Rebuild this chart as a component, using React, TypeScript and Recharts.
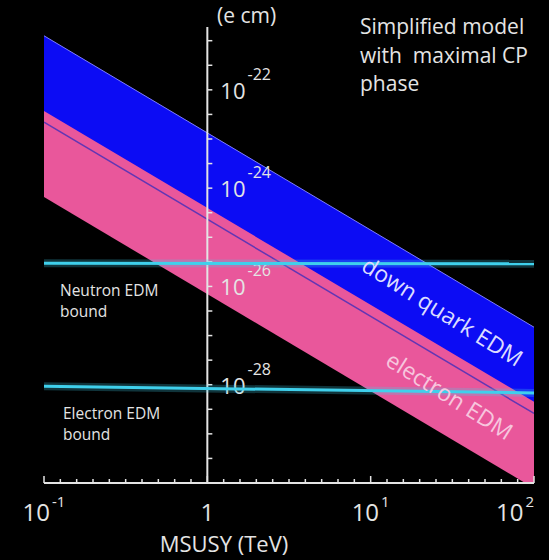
import { ComposedChart, Area, Line, XAxis, YAxis, ReferenceLine } from 'recharts'

// MSUSY (TeV) at both ends of the plot; every curve is straight in log-log
const mass = [0.1, 100]
const downQuarkUpper = [1.26e-21, 1.48e-27]
const downQuarkLower = [2.2e-23, 2.6e-29]
const electronUpper = [3.7e-23, 4.5e-29]
const electronLower = [6.6e-25, 7.8e-31]
const neutronBound = [2.95e-26, 2.9e-26]
const electronBound = [9.3e-29, 6.8e-29]

// axis ticks (exponents of 10)
const xTickExps = Array.from({ length: 31 }, (_, k) => -1 + k / 10)
const xLabelExps = [-1, 0, 1, 2]
const yTickExps = Array.from({ length: 19 }, (_, k) => -30 + k / 2)
const yLabelExps = [-22, -24, -26, -28]

const AXIS = '#e4e4e4'
const BLUE = '#0c0cf4'
const PINK = '#e9579b'
const PURPLE = '#6236b4'
const CYAN = '#3fd0ec'
const FONT = '"Open Sans", "Noto Sans", sans-serif'

const data = mass.map((m, i) => ({
  m,
  quark: [downQuarkLower[i], downQuarkUpper[i]],
  quarkLow: downQuarkLower[i],
  quarkHigh: downQuarkUpper[i],
  electron: [electronLower[i], electronUpper[i]],
  nBound: neutronBound[i],
  eBound: electronBound[i],
}))

function XTick(props: any) {
  const { x, y, payload } = props
  const e = Math.log10(payload.value)
  const major = xLabelExps.some(l => Math.abs(l - e) < 1e-6)
  const re = Math.round(e)
  return (
    <g>
      <line x1={x} x2={x} y1={y} y2={y - (major ? 7 : 4)} stroke={AXIS} strokeWidth={1.5} />
      {major && (
        <text x={x} y={y + 38} fill={AXIS} fontSize={24} fontFamily={FONT} textAnchor={re === 2 ? 'end' : 'middle'}>
          {re === 0 ? '1' : '10'}
          {re !== 0 && <tspan dx={2} dy={-14} fontSize={15}>{re}</tspan>}
        </text>
      )}
    </g>
  )
}

const yTickShape = (e: number) => (p: any) => {
  const labeled = yLabelExps.includes(e)
  return (
    <g>
      <line x1={p.x1} x2={p.x1 + 5} y1={p.y1} y2={p.y1} stroke={AXIS} strokeWidth={1.5} />
      {labeled && (
        <text x={p.x1 + 13} y={p.y1 + 9} fill={AXIS} fontSize={22} fontFamily={FONT}>
          10<tspan dx={2} dy={-19} fontSize={16}>{e}</tspan>
        </text>
      )}
    </g>
  )
}

export default function App() {
  return (
    <div style={{ position: 'fixed', left: 0, top: 0, width: 549, height: 560, background: '#000' }}>
      <ComposedChart width={549} height={560} data={data} margin={{ top: 27, right: 15, left: 44, bottom: 0 }}>
        <XAxis
          dataKey="m"
          type="number"
          scale="log"
          domain={[0.1, 100]}
          ticks={xTickExps.map(e => 10 ** e)}
          interval={0}
          tick={<XTick />}
          tickLine={false}
          tickSize={0}
          tickMargin={0}
          axisLine={{ stroke: AXIS, strokeWidth: 2 }}
          height={77}
          allowDataOverflow
        />
        <YAxis hide type="number" scale="log" domain={[1e-30, 1.9e-21]} allowDataOverflow />
        <Area dataKey="quark" type="linear" fill={BLUE} fillOpacity={1} stroke="none" isAnimationActive={false} />
        <Area dataKey="electron" type="linear" fill={PINK} fillOpacity={1} stroke="none" isAnimationActive={false} />
        <Line dataKey="quarkLow" type="linear" stroke={PURPLE} strokeWidth={1.5} dot={false} activeDot={false} isAnimationActive={false} />
        <Line dataKey="quarkHigh" type="linear" stroke="#7d7dff" strokeWidth={1} dot={false} activeDot={false} isAnimationActive={false} />
        <ReferenceLine x={1} stroke={AXIS} strokeWidth={2} />
        {yTickExps.map(e => (
          <ReferenceLine
            key={e}
            segment={[{ x: 1, y: 10 ** e }, { x: 1, y: 10 ** e }]}
            shape={yTickShape(e)}
            ifOverflow="visible"
          />
        ))}
        <Line dataKey="nBound" type="linear" stroke={CYAN} strokeOpacity={0.25} strokeWidth={8} dot={false} activeDot={false} isAnimationActive={false} />
        <Line dataKey="nBound" type="linear" stroke={CYAN} strokeWidth={3} dot={false} activeDot={false} isAnimationActive={false} />
        <Line dataKey="eBound" type="linear" stroke={CYAN} strokeOpacity={0.25} strokeWidth={8} dot={false} activeDot={false} isAnimationActive={false} />
        <Line dataKey="eBound" type="linear" stroke={CYAN} strokeWidth={3} dot={false} activeDot={false} isAnimationActive={false} />
      </ComposedChart>
      <svg width={549} height={560} style={{ position: 'absolute', left: 0, top: 0, pointerEvents: 'none' }} fontFamily={FONT}>
        <text x={217} y={23} fill={AXIS} fontSize={21}>(e cm)</text>
        <text fill={AXIS} fontSize={21} style={{ whiteSpace: 'pre' }}>
          <tspan x={360} y={34}>Simplified model</tspan>
          <tspan x={360} y={63}>with  maximal CP</tspan>
          <tspan x={360} y={91}>phase</tspan>
        </text>
        <text fill={AXIS} fontSize={15.5}>
          <tspan x={60} y={296}>Neutron EDM</tspan>
          <tspan x={60} y={317}>bound</tspan>
        </text>
        <text fill={AXIS} fontSize={15.5}>
          <tspan x={63} y={419}>Electron EDM</tspan>
          <tspan x={63} y={440}>bound</tspan>
        </text>
        <text x={443} y={311} transform="rotate(32 443 311)" textAnchor="middle" dominantBaseline="central" fill="#dcdcff" fontSize={23}>down quark EDM</text>
        <text x={450} y={395} transform="rotate(32 450 395)" textAnchor="middle" dominantBaseline="central" fill="#f7c6de" fontSize={23}>electron EDM</text>
        <text x={224} y={552} textAnchor="middle" fill={AXIS} fontSize={22}>MSUSY (TeV)</text>
      </svg>
    </div>
  )
}
